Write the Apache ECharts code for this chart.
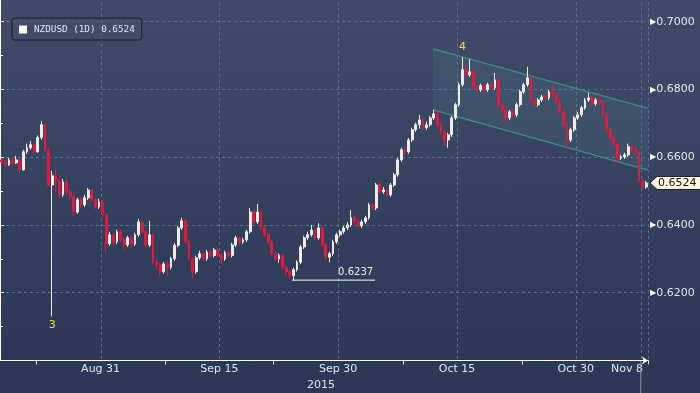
<!DOCTYPE html>
<html><head><meta charset="utf-8">
<script src="https://cdn.jsdelivr.net/npm/echarts@6/dist/echarts.min.js"></script>
<style>
html,body{margin:0;padding:0;width:700px;height:393px;overflow:hidden;
background:linear-gradient(to bottom,#3f4b67 0%,#37445f 40%,#2f3d5b 70%,#2a3856 100%);}
#c{position:absolute;left:0;top:-46px;width:700px;height:439px;}
</style>
</head><body><div id="c"></div>
<script>
// trading days (Bloomberg session dates); first has one 8h candle, last has two
const tradingDays = ['Aug 17','Aug 18','Aug 19','Aug 20','Aug 21','Aug 24','Aug 25','Aug 26','Aug 27','Aug 28','Aug 31',
 'Sep 1','Sep 2','Sep 3','Sep 4','Sep 7','Sep 8','Sep 9','Sep 10','Sep 11','Sep 14','Sep 15','Sep 16','Sep 17','Sep 18',
 'Sep 21','Sep 22','Sep 23','Sep 24','Sep 25','Sep 28','Sep 29','Sep 30',
 'Oct 1','Oct 2','Oct 5','Oct 6','Oct 7','Oct 8','Oct 9','Oct 12','Oct 13','Oct 14','Oct 15','Oct 16','Oct 19','Oct 20',
 'Oct 21','Oct 22','Oct 23','Oct 26','Oct 27','Oct 28','Oct 29','Oct 30','Nov 2','Nov 3','Nov 4','Nov 5','Nov 6','Nov 8'];
const labelDays = ['Aug 31','Sep 15','Sep 30','Oct 15','Oct 30','Nov 8'];
const tickDays = ['Aug 21','Sep 8','Sep 22','Oct 8','Oct 23'];
const yearLabel = '2015';
const seriesName = 'NZDUSD (1D) 0.6524';
const lastPrice = 0.6524;
// 8-hour candles: [open, close, low, high]
const candles = [
[.6592,.6586,.6580,.6598],[.6586,.6577,.6571,.6592],[.6577,.6592,.6574,.6598],[.6592,.6583,.6577,.6601],
[.6583,.6592,.6580,.6604],[.6592,.6563,.6557,.6595],[.6563,.6616,.6560,.6622],[.6616,.6628,.6610,.6640],
[.6628,.6637,.6622,.6648],[.6637,.6616,.6610,.6643],[.6616,.6658,.6613,.6664],[.6658,.6696,.6652,.6707],
[.6696,.6622,.6616,.6699],[.6622,.6518,.6512,.6628],[.6518,.6545,.6130,.6560],[.6545,.6530,.6500,.6563],
[.6530,.6489,.6480,.6548],[.6489,.6527,.6483,.6536],[.6527,.6498,.6489,.6533],[.6498,.6483,.6474,.6506],
[.6483,.6438,.6430,.6489],[.6438,.6474,.6433,.6480],[.6474,.6459,.6450,.6483],[.6459,.6480,.6453,.6489],
[.6480,.6503,.6474,.6509],[.6503,.6474,.6468,.6506],[.6474,.6453,.6447,.6480],[.6453,.6468,.6447,.6477],
[.6468,.6430,.6424,.6474],[.6430,.6345,.6318,.6436],[.6345,.6371,.6338,.6380],[.6371,.6350,.6341,.6377],
[.6350,.6380,.6344,.6386],[.6380,.6356,.6350,.6386],[.6356,.6341,.6325,.6362],[.6341,.6362,.6335,.6368],
[.6362,.6344,.6332,.6368],[.6344,.6371,.6338,.6377],[.6371,.6409,.6365,.6418],[.6409,.6380,.6374,.6412],
[.6380,.6341,.6335,.6386],[.6341,.6371,.6335,.6412],[.6371,.6290,.6284,.6374],[.6290,.6282,.6270,.6297],
[.6282,.6262,.6250,.6288],[.6262,.6285,.6256,.6291],[.6285,.6275,.6248,.6294],[.6275,.6300,.6268,.6306],
[.6300,.6340,.6294,.6346],[.6340,.6391,.6334,.6397],[.6391,.6412,.6385,.6421],[.6412,.6350,.6344,.6418],
[.6350,.6300,.6294,.6356],[.6300,.6262,.6242,.6306],[.6262,.6303,.6256,.6309],[.6303,.6315,.6297,.6324],
[.6315,.6300,.6294,.6321],[.6300,.6320,.6294,.6326],[.6320,.6310,.6304,.6326],[.6310,.6326,.6304,.6332],
[.6326,.6312,.6306,.6332],[.6312,.6300,.6285,.6318],[.6300,.6318,.6294,.6324],[.6318,.6310,.6304,.6324],
[.6310,.6341,.6304,.6347],[.6341,.6362,.6335,.6368],[.6362,.6350,.6344,.6368],[.6350,.6356,.6344,.6362],
[.6356,.6380,.6350,.6386],[.6380,.6438,.6374,.6450],[.6438,.6409,.6403,.6444],[.6409,.6438,.6403,.6462],
[.6438,.6391,.6385,.6444],[.6391,.6371,.6365,.6397],[.6371,.6350,.6344,.6377],[.6350,.6315,.6309,.6356],
[.6315,.6300,.6291,.6321],[.6300,.6310,.6288,.6316],[.6310,.6275,.6265,.6316],[.6275,.6262,.6250,.6281],
[.6262,.6250,.6241,.6268],[.6250,.6268,.6237,.6274],[.6268,.6290,.6262,.6296],[.6290,.6335,.6284,.6341],
[.6335,.6362,.6329,.6368],[.6362,.6371,.6356,.6380],[.6371,.6385,.6365,.6400],[.6385,.6362,.6356,.6391],
[.6362,.6391,.6356,.6405],[.6391,.6341,.6335,.6397],[.6341,.6305,.6297,.6347],[.6305,.6315,.6290,.6321],
[.6315,.6350,.6309,.6356],[.6350,.6371,.6344,.6377],[.6371,.6380,.6365,.6386],[.6380,.6391,.6374,.6397],
[.6391,.6400,.6385,.6409],[.6400,.6421,.6394,.6444],[.6421,.6409,.6403,.6427],[.6409,.6397,.6391,.6415],
[.6397,.6409,.6391,.6415],[.6409,.6421,.6403,.6427],[.6421,.6459,.6415,.6465],[.6459,.6450,.6444,.6465],
[.6450,.6518,.6444,.6524],[.6518,.6498,.6492,.6527],[.6498,.6503,.6492,.6512],[.6503,.6489,.6483,.6509],
[.6489,.6518,.6483,.6524],[.6518,.6548,.6512,.6554],[.6548,.6592,.6542,.6598],[.6592,.6622,.6586,.6628],
[.6622,.6616,.6607,.6631],[.6616,.6651,.6610,.6657],[.6651,.6681,.6645,.6687],[.6681,.6696,.6675,.6702],
[.6696,.6710,.6684,.6725],[.6710,.6687,.6681,.6716],[.6687,.6696,.6681,.6705],[.6696,.6716,.6690,.6722],
[.6716,.6728,.6710,.6740],[.6728,.6696,.6690,.6734],[.6696,.6675,.6669,.6702],[.6675,.6651,.6634,.6681],
[.6651,.6666,.6628,.6672],[.6666,.6716,.6660,.6722],[.6716,.6755,.6710,.6761],[.6755,.6814,.6749,.6820],
[.6814,.6858,.6808,.6895],[.6858,.6843,.6834,.6873],[.6843,.6852,.6837,.6890],[.6852,.6808,.6802,.6858],
[.6808,.6799,.6790,.6814],[.6799,.6811,.6793,.6817],[.6811,.6799,.6793,.6817],[.6799,.6814,.6793,.6820],
[.6814,.6805,.6799,.6820],[.6805,.6828,.6799,.6849],[.6828,.6755,.6749,.6834],[.6755,.6740,.6731,.6761],
[.6740,.6716,.6702,.6746],[.6716,.6734,.6710,.6740],[.6734,.6725,.6719,.6743],[.6725,.6755,.6719,.6761],
[.6755,.6793,.6749,.6799],[.6793,.6814,.6787,.6820],[.6814,.6834,.6808,.6867],[.6834,.6769,.6763,.6840],
[.6769,.6755,.6749,.6775],[.6755,.6769,.6749,.6775],[.6769,.6778,.6763,.6784],[.6778,.6775,.6769,.6787],
[.6775,.6793,.6769,.6799],[.6793,.6784,.6778,.6814],[.6784,.6763,.6757,.6790],[.6763,.6734,.6728,.6769],
[.6734,.6696,.6690,.6740],[.6696,.6651,.6628,.6702],[.6651,.6681,.6645,.6687],[.6681,.6716,.6675,.6722],
[.6716,.6725,.6710,.6734],[.6725,.6746,.6719,.6752],[.6746,.6769,.6740,.6775],[.6769,.6775,.6763,.6790],
[.6775,.6758,.6752,.6781],[.6758,.6769,.6752,.6775],[.6769,.6761,.6755,.6778],[.6761,.6725,.6719,.6767],
[.6725,.6681,.6675,.6731],[.6681,.6657,.6651,.6687],[.6657,.6637,.6631,.6663],[.6637,.6598,.6586,.6643],
[.6598,.6601,.6592,.6607],[.6601,.6607,.6595,.6613],[.6607,.6631,.6601,.6640],[.6631,.6622,.6616,.6637],
[.6622,.6616,.6610,.6634],[.6616,.6530,.6524,.6622],[.6530,.6512,.6506,.6536],[.6512,.6524,.6506,.6530]
];
// channel (in candle-slot units on a hidden value axis)
const channelX = [120.3, 180];
const channelUpper = [0.6920, 0.6744];
const channelLower = [0.6740, 0.6562];
// support line annotation
const supportX = [81.1, 104.2];
const supportValue = 0.6237;
const supportText = '0.6237';
// wave labels
const waveSlots = [14, 128];
const waveValues = [0.6130, 0.6895];
const waveTexts = ['3', '4'];
const wavePos = ['bottom', 'top'];

const FONT = 'DejaVu Sans';
const LBL = '#dfe8f4';
const GRIDC = '#58708f';
const OFF = 46; // chart canvas starts 46px above the window

const cats = candles.map((c, i) => tradingDays[Math.ceil(i / 3)] + ' #' + (i === 0 ? 3 : ((i - 1) % 3 + 1)));
const firstSlot = d => 3 * tradingDays.indexOf(d) - 2;
const labelSlots = labelDays.map(firstSlot);
const tickSlots = tickDays.map(firstSlot);

const chart = echarts.init(document.getElementById('c'), null, {renderer: 'canvas'});
chart.setOption({
  animation: false,
  backgroundColor: 'transparent',
  grid: {left: 0, right: 52, top: 0, bottom: 32.6},
  legend: {
    left: 12, top: 18 + OFF, padding: [7, 7, 6, 7], itemWidth: 8, itemHeight: 8, icon: 'rect',
    backgroundColor: 'rgba(66,80,106,0.55)', borderColor: '#141b2b', borderWidth: 1, borderRadius: 3,
    textStyle: {color: '#dbe7f6', fontFamily: 'DejaVu Sans Mono', fontSize: 9.3, padding: [0, 0, 0, 2]},
    itemStyle: {color: '#fdf8f0', borderWidth: 0},
    selectedMode: false,
    data: [seriesName]
  },
  xAxis: [{
    type: 'category', data: cats, boundaryGap: true,
    axisLine: {show: true, lineStyle: {color: '#ffffff', width: 1}, symbol: ['none', 'arrow'], symbolSize: [6, 6]},
    axisTick: {show: true, interval: (i) => tickSlots.includes(i), length: 4, lineStyle: {color: '#ffffff'}},
    axisLabel: {
      show: true, interval: (i) => labelSlots.includes(i), margin: 3,
      formatter: (v) => {
        const d = v.split(' #')[0];
        return d === 'Nov 8' ? '{e|' + d + '}' : '{n|' + d + '}';
      },
      rich: {
        n: {color: LBL, fontFamily: FONT, fontSize: 11, padding: [0, 4, 0, 0]},
        e: {color: LBL, fontFamily: FONT, fontSize: 11, padding: [0, 31, 0, 0]}
      }
    },
    splitLine: {show: true, interval: (i) => labelSlots.includes(i), lineStyle: {color: GRIDC, type: [3, 3], width: 1}}
  }, {
    type: 'value', min: 0, max: 180, show: false
  }],
  yAxis: {
    type: 'value', position: 'right', min: 0.6, max: 0.72, interval: 0.02,
    axisLine: {show: true, lineStyle: {color: '#ffffff', width: 1}},
    axisTick: {show: true, length: 4, lineStyle: {color: '#ffffff'}},
    minorTick: {show: true, splitNumber: 2, length: 3, lineStyle: {color: '#ffffff'}},
    axisLabel: {
      margin: 2,
      formatter: (v) => {
        if (v < 0.615 || v > 0.705) return '';
        return '{t|\u25B6}{v|' + v.toFixed(4) + '}';
      },
      rich: {
        t: {color: '#ffffff', fontSize: 8, fontFamily: FONT, padding: [0, 0, 0, 0]},
        v: {color: LBL, fontSize: 11, fontFamily: FONT}
      }
    },
    splitLine: {show: true, lineStyle: {color: GRIDC, type: [3, 3], width: 1}}
  },
  series: [
    {
      type: 'custom', xAxisIndex: 1, yAxisIndex: 0, silent: true, z: 1,
      data: [[channelX[0], channelUpper[0], channelLower[0], channelX[1], channelUpper[1], channelLower[1]]],
      encode: {x: [0, 3], y: [1, 2, 4, 5]},
      renderItem: (params, api) => {
        const a = api.coord([api.value(0), api.value(1)]);
        const b = api.coord([api.value(3), api.value(4)]);
        const c = api.coord([api.value(3), api.value(5)]);
        const d = api.coord([api.value(0), api.value(2)]);
        return {type: 'group', children: [
          {type: 'polygon', shape: {points: [a, b, c, d]}, style: {fill: 'rgba(95,165,165,0.12)'}},
          {type: 'line', shape: {x1: a[0], y1: a[1], x2: b[0], y2: b[1]}, style: {stroke: '#3f8d8c', lineWidth: 1.3}},
          {type: 'line', shape: {x1: d[0], y1: d[1], x2: c[0], y2: c[1]}, style: {stroke: '#3f8d8c', lineWidth: 1.3}}
        ]};
      }
    },
    {
      type: 'candlestick', name: seriesName, data: candles, barWidth: 2.2, z: 3,
      itemStyle: {color: '#efece6', color0: '#e2193f', borderColor: '#efece6', borderColor0: '#e2193f', borderWidth: 1},
      markPoint: {
        symbol: 'circle', symbolSize: 0, silent: true,
        data: waveSlots.map((s, i) => ({
          coord: [cats[s], waveValues[i]],
          label: {show: true, formatter: waveTexts[i], position: wavePos[i], distance: wavePos[i] === 'top' ? 5 : 3,
                  color: '#ece23c', fontFamily: FONT, fontSize: 11}
        }))
      }
    },
    {
      type: 'line', xAxisIndex: 1, yAxisIndex: 0, z: 4, silent: true,
      data: [[supportX[0], supportValue], [supportX[1], supportValue]],
      symbol: 'none', lineStyle: {color: '#ffffff', width: 1},
      markPoint: {
        symbol: 'circle', symbolSize: 0, silent: true,
        data: [{coord: [supportX[1], supportValue]}],
        label: {show: true, formatter: supportText, position: [-37, -13], color: '#e8eef6', fontFamily: FONT, fontSize: 10}
      }
    }
  ]
});

const py = chart.convertToPixel({yAxisIndex: 0}, lastPrice);
const nx = chart.convertToPixel({xAxisIndex: 1}, firstSlot('Nov 8'));
const axisY = chart.convertToPixel({yAxisIndex: 0}, 0.6);
chart.setOption({graphic: [
  {type: 'polygon', z: 100, shape: {points: [[650, py], [657, py - 6.5], [702, py - 6.5], [702, py + 6.5], [657, py + 6.5]]},
   style: {fill: '#fff7e6', stroke: '#1c1c1c', lineWidth: 1}},
  {type: 'text', z: 101, x: 658, y: py + 0.5, style: {text: lastPrice.toFixed(4), fill: '#111111', font: '11px "DejaVu Sans"', verticalAlign: 'middle'}},
  {type: 'line', z: 50, shape: {x1: nx, y1: axisY + 1, x2: nx, y2: 393 + OFF}, style: {stroke: '#8d96a6', lineWidth: 1}},
  {type: 'text', z: 50, x: 321, y: 385 + OFF, style: {text: yearLabel, fill: LBL, font: '11px "DejaVu Sans"', align: 'center', verticalAlign: 'middle'}}
]});
</script>
</body></html>
